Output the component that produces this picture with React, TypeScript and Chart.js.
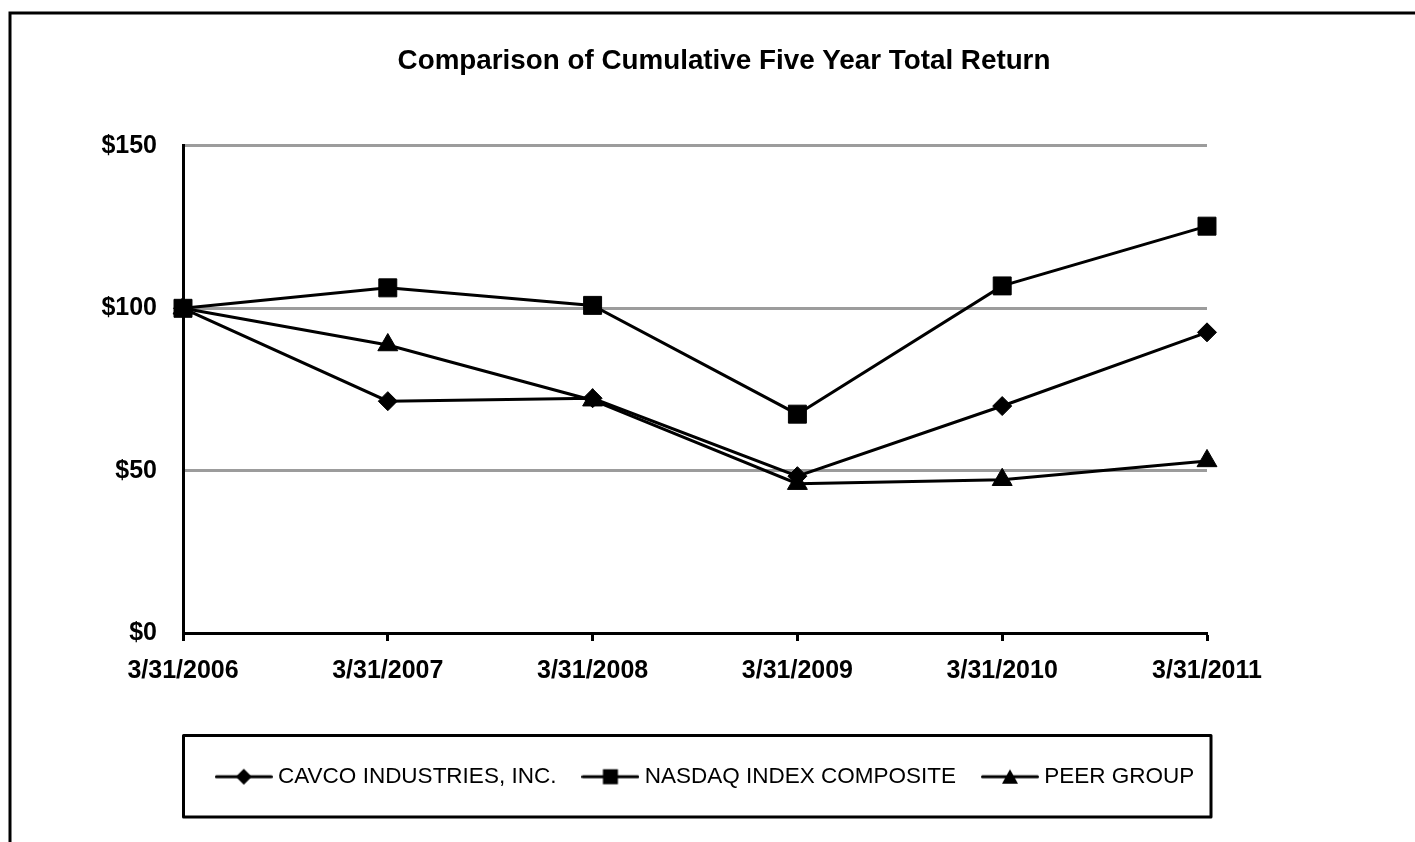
import React, { useEffect, useRef } from "react";
import { Chart, registerables } from "chart.js";

Chart.register(...registerables);

const categories = ["3/31/2006", "3/31/2007", "3/31/2008", "3/31/2009", "3/31/2010", "3/31/2011"];
const cavco = [100, 71.4, 72.3, 48.3, 69.9, 92.6];
const nasdaq = [100, 106.3, 100.9, 67.4, 106.9, 125.3];
const peer = [100, 88.7, 71.7, 46.0, 47.2, 53.0];
const seriesNames = ["CAVCO INDUSTRIES, INC.", "NASDAQ INDEX COMPOSITE", "PEER GROUP"];
const yTicks = [0, 50, 100, 150];
const chartTitle = "Comparison of Cumulative Five Year Total Return";

const FONT = "'Liberation Sans', Arial, sans-serif";

function makeIcon(kind: string): HTMLCanvasElement {
  const c = document.createElement("canvas");
  c.width = 58;
  c.height = 20;
  const g = c.getContext("2d")!;
  g.strokeStyle = "#000";
  g.fillStyle = "#000";
  g.lineWidth = 3;
  g.lineCap = "round";
  g.beginPath();
  g.moveTo(1.5, 10);
  g.lineTo(56.5, 10);
  g.stroke();
  g.beginPath();
  if (kind === "diamond") {
    g.moveTo(29, 2);
    g.lineTo(37, 10);
    g.lineTo(29, 18);
    g.lineTo(21, 10);
  } else if (kind === "square") {
    g.rect(21.5, 2.5, 15, 15);
  } else {
    g.moveTo(29, 2.5);
    g.lineTo(37, 17);
    g.lineTo(21, 17);
  }
  g.closePath();
  g.fill();
  return c;
}

export default function App() {
  const ref = useRef<HTMLCanvasElement>(null);

  useEffect(() => {
    const canvas = ref.current!;
    const icons = [makeIcon("diamond"), makeIcon("square"), makeIcon("triangle")];

    const framePlugin = {
      id: "framePlugin",
      afterLayout(chart: any) {
        // centre the title block over the same span as the original figure
        if (chart.titleBlock) {
          chart.titleBlock.left = 33;
          chart.titleBlock.right = 1415;
        }
      },
      afterDraw(chart: any) {
        const ctx = chart.ctx;
        const ca = chart.chartArea;
        const lg = chart.legend;
        ctx.save();
        ctx.strokeStyle = "#000";
        ctx.lineWidth = 3;
        ctx.beginPath();
        ctx.moveTo(10, 842);
        ctx.lineTo(10, 13);
        ctx.lineTo(1415, 13);
        ctx.stroke();
        ctx.lineJoin = "round";
        ctx.strokeRect(ca.left + 0.5, lg.top + 1, ca.right + 4 - (ca.left + 0.5), 81.5);
        ctx.restore();
      },
    };

    const common = {
      borderColor: "#000",
      borderWidth: 3,
      pointBackgroundColor: "#000",
      pointBorderColor: "#000",
      pointBorderWidth: 1,
      tension: 0,
      fill: false,
    };

    const chart = new Chart(canvas, {
      type: "line",
      data: {
        labels: categories,
        datasets: [
          { ...common, label: seriesNames[0], data: cavco, pointStyle: "rectRot", pointRadius: 9.5, order: 1 },
          { ...common, label: seriesNames[1], data: nasdaq, pointStyle: "rect", pointRadius: 12.7, order: 2 },
          { ...common, label: seriesNames[2], data: peer, pointStyle: "triangle", pointRadius: 11.5, order: 0 },
        ],
      },
      options: {
        responsive: false,
        animation: false,
        devicePixelRatio: 1,
        events: [],
        layout: { padding: { left: 0, right: 0, top: 0, bottom: 44 } },
        plugins: {
          tooltip: { enabled: false },
          title: {
            display: true,
            text: chartTitle,
            color: "#000",
            font: { family: FONT, size: 27.8, weight: "bold" },
            padding: { top: 45, bottom: 67.6 },
          },
          legend: {
            display: true,
            position: "bottom",
            labels: {
              usePointStyle: true,
              pointStyleWidth: 46,
              padding: 31,
              color: "#000",
              font: { family: FONT, size: 22.5 },
              generateLabels: () =>
                seriesNames.map((t, i) => ({
                  text: t,
                  pointStyle: icons[i],
                  fillStyle: "#000",
                  strokeStyle: "#000",
                  lineWidth: 0,
                  hidden: false,
                  datasetIndex: i,
                  fontColor: "#000",
                })),
            },
          },
        },
        scales: {
          x: {
            type: "category",
            offset: false,
            grid: {
              display: true,
              drawOnChartArea: false,
              drawTicks: true,
              tickLength: 8,
              tickColor: "#000",
              tickWidth: 3,
            },
            border: { display: true, color: "#000", width: 3 },
            ticks: {
              color: "#000",
              font: { family: FONT, size: 25, weight: "bold" },
              padding: 15,
              maxRotation: 0,
              autoSkip: false,
            },
            afterFit: (s: any) => {
              s.height = 101.5;
              s.paddingRight = 208;
            },
          },
          y: {
            type: "linear",
            min: 0,
            max: 150,
            grid: {
              drawTicks: false,
              tickLength: 0,
              lineWidth: 3,
              color: (c: any) => (c.tick && c.tick.value === 0 ? "rgba(0,0,0,0)" : "#9c9c9c"),
            },
            border: { display: true, color: "#000", width: 3 },
            ticks: {
              color: "#000",
              font: { family: FONT, size: 25, weight: "bold" },
              padding: 26,
              callback: (v: any) => "$" + v,
            },
            afterBuildTicks: (axis: any) => {
              axis.ticks = yTicks.map((v) => ({ value: v }));
            },
            afterFit: (s: any) => {
              s.width = 183;
            },
          },
        },
      } as any,
      plugins: [framePlugin],
    });

    return () => chart.destroy();
  }, []);

  return (
    <div style={{ position: "fixed", left: 0, top: 0, width: 1415, height: 842, background: "#fff" }}>
      <canvas ref={ref} width={1415} height={842} style={{ display: "block" }} />
    </div>
  );
}
